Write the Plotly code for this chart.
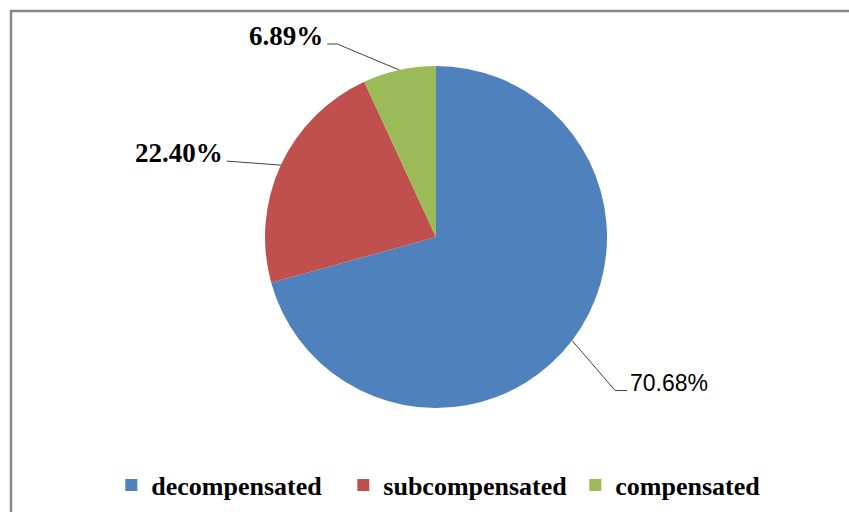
import math
import plotly.graph_objects as go

# Share of patients by compensation state (%)
categories = ["decompensated", "subcompensated", "compensated"]
shares = [70.68, 22.40, 6.89]
label_texts = ["70.68%", "22.40%", "6.89%"]
colors = ["#4F81BD", "#C0504D", "#9BBB59"]

W, H = 849, 512
CX, CY, R = 436, 237, 171  # pie centre and radius in pixels

SERIF = "Liberation Serif"

# Leader-line layout per slice: (elbow dx, elbow dy, tail length, side)
leader_style = [
    (43, 50, 12, "right"),
    (-54, -4, 0, "left"),
    (-62, -26, 10, "left"),
]
label_fonts = [
    dict(family="Liberation Sans", size=23, color="black"),
    dict(family=SERIF, size=27, color="black", weight="bold"),
    dict(family=SERIF, size=27, color="black", weight="bold"),
]


def px_to_paper(x, y):
    return x / W, 1 - y / H


fig = go.Figure()
fig.add_trace(go.Pie(
    labels=[f"<b>{c}</b>" for c in categories],
    values=shares,
    sort=False,
    direction="clockwise",
    rotation=0,
    textinfo="none",
    hoverinfo="label+percent",
    marker=dict(colors=colors, line=dict(width=0)),
    domain=dict(x=[(CX - R) / W, (CX + R) / W], y=[1 - (CY + R) / H, 1 - (CY - R) / H]),
))

shapes = []
annotations = []
total = sum(shares)
start = 0.0
for val, txt, (dx, dy, tail, side), fnt in zip(shares, label_texts, leader_style, label_fonts):
    mid = (start + val / 2) / total * 2 * math.pi
    start += val
    ex, ey = CX + R * math.sin(mid), CY - R * math.cos(mid)
    kx, ky = ex + dx, ey + dy
    tx = kx + (tail if side == "right" else -tail)
    p0, p1, p2 = px_to_paper(ex, ey), px_to_paper(kx, ky), px_to_paper(tx, ky)
    shapes.append(dict(
        type="path", xref="paper", yref="paper",
        path=f"M {p0[0]},{p0[1]} L {p1[0]},{p1[1]} L {p2[0]},{p2[1]}",
        line=dict(color="#404040", width=1),
    ))
    ax, ay = px_to_paper(tx + (1 if side == "right" else -2), ky - 8)
    annotations.append(dict(
        x=ax, y=ay, xref="paper", yref="paper", text=txt, showarrow=False,
        xanchor="left" if side == "right" else "right", yanchor="middle",
        font=fnt,
    ))

# chart frame
shapes.append(dict(
    type="rect", xref="paper", yref="paper",
    x0=11 / W, x1=1.02, y0=-0.02, y1=1 - 11 / H,
    line=dict(color="#878787", width=2.5),
))

fig.update_layout(
    width=W, height=H,
    margin=dict(l=0, r=0, t=0, b=0),
    paper_bgcolor="white",
    plot_bgcolor="white",
    shapes=shapes,
    annotations=annotations,
    showlegend=True,
    legend=dict(
        orientation="h",
        entrywidthmode="pixels",
        entrywidth=187,
        x=0.541, xanchor="center",
        y=1 - 485 / H, yanchor="middle",
        font=dict(family=SERIF, size=26, color="black"),
        itemclick=False,
        tracegroupgap=0,
    ),
)

fig.write_html("out.html")
